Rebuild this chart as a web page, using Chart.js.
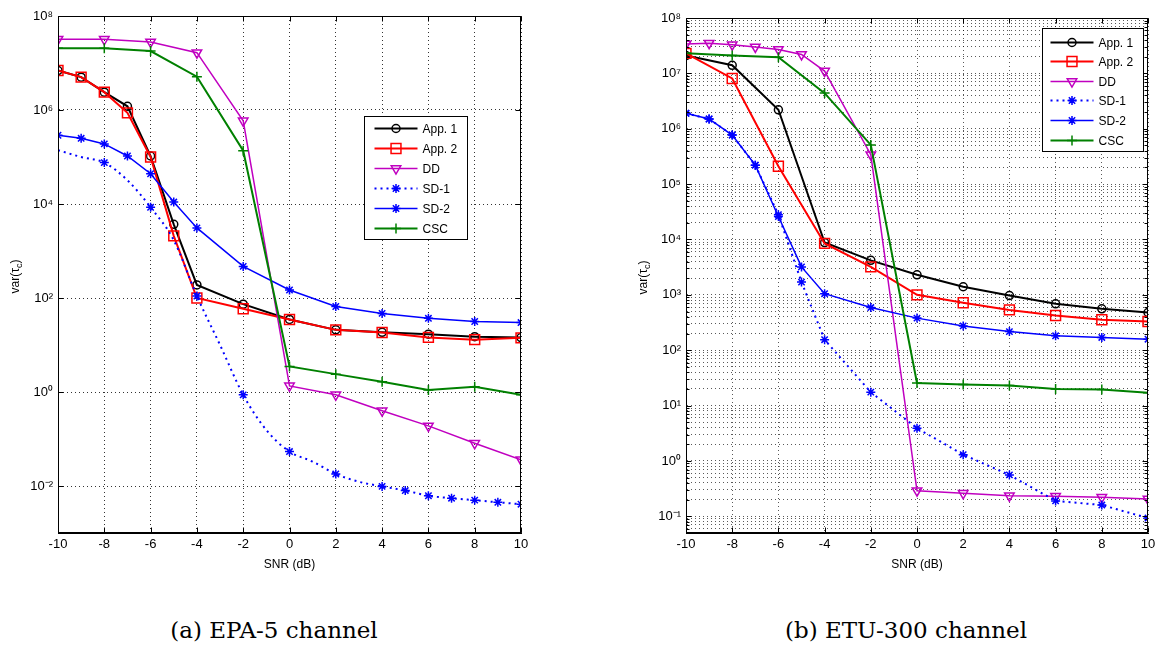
<!DOCTYPE html>
<html>
<head>
<meta charset="utf-8">
<script src="https://cdn.jsdelivr.net/npm/chart.js@4/dist/chart.umd.min.js"></script>
<style>
html, body { margin: 0; padding: 0; background: #fff; }
body { width: 1169px; height: 648px; position: relative; overflow: hidden; }
.panel { position: absolute; top: 0; }
.cap { position: absolute; top: 617px; font-family: "DejaVu Serif", serif; font-size: 23px; line-height: 26px;
       transform: translateX(-50%); white-space: nowrap; color: #000; }
</style>
</head>
<body>
<div class="panel" style="left:0px"><canvas id="chartA" width="560" height="580"></canvas></div>
<div class="panel" style="left:628px"><canvas id="chartB" width="540" height="580"></canvas></div>
<div class="cap" style="left:274px">(a) EPA-5 channel</div>
<div class="cap" style="left:906px">(b) ETU-300 channel</div>
<script>
// SNR grids used by the different curves
const snrFine = [-10, -9, -8, -7, -6, -5, -4, -2, 0, 2, 4, 6, 8, 10];
const snrEven = [-10, -8, -6, -4, -2, 0, 2, 4, 6, 8, 10];
const snrAll = [-10, -9, -8, -7, -6, -5, -4, -3, -2, -1, 0, 1, 2, 3, 4, 5, 6, 7, 8, 9, 10];
const xTicks = [-10, -8, -6, -4, -2, 0, 2, 4, 6, 8, 10];

// (a) EPA-5 channel
const app1A = [6.9e6, 5.0e6, 2.4e6, 1.2e6, 1.05e5, 3.7e3, 190, 74, 35, 21, 18.6, 17, 15, 14.4];
const app2A = [6.9e6, 5.0e6, 2.4e6, 8.7e5, 1.0e5, 2.1e3, 100, 59, 35, 21, 18.4, 14.5, 13, 14.2];
const ddA = [3.2e7, 3.2e7, 2.8e7, 1.66e7, 5.9e5, 1.35, 0.87, 0.40, 0.19, 0.081, 0.036];
const sd1A = [1.4e5, 1.0e5, 7.6e4, 3.2e4, 8.5e3, 1.7e3, 110, 10, 0.87, 0.155, 0.054, 0.033, 0.018, 0.0123,
              0.0098, 0.008, 0.0062, 0.0055, 0.005, 0.0045, 0.0041];
const sd1AMarked = [0, 0, 1, 0, 1, 0, 1, 0, 1, 0, 1, 0, 1, 0, 1, 1, 1, 1, 1, 1, 1];
const sd2A = [2.9e5, 2.5e5, 1.9e5, 1.05e5, 4.4e4, 1.1e4, 3.1e3, 470, 148, 66, 47, 37, 31.6, 30];
const cscA = [2.05e7, 2.05e7, 1.8e7, 5.1e6, 1.36e5, 3.5, 2.4, 1.66, 1.1, 1.3, 0.87];
const yTicksA = [1e-2, 1e0, 1e2, 1e4, 1e6, 1e8];

// (b) ETU-300 channel
const app1B = [2.1e7, 1.4e7, 2.2e6, 8.8e3, 4.2e3, 2.3e3, 1.4e3, 970, 690, 560, 480];
const app2B = [2.3e7, 8.1e6, 2.1e5, 8.5e3, 3.2e3, 1.0e3, 720, 535, 425, 355, 330];
const ddB = [3.4e7, 3.5e7, 3.3e7, 3.0e7, 2.7e7, 2.2e7, 1.1e7, 3.4e5, 0.29, 0.26, 0.235, 0.23, 0.22, 0.205];
const sd1B = [1.9e6, 1.5e6, 7.7e5, 2.2e5, 2.8e4, 1.7e3, 155, 17.5, 3.9, 1.3, 0.56, 0.19, 0.16, 0.093];
const sd2B = [1.9e6, 1.5e6, 7.7e5, 2.2e5, 2.6e4, 3.2e3, 1.05e3, 590, 380, 275, 217, 182, 170, 158];
const cscB = [2.3e7, 2.1e7, 1.95e7, 4.4e6, 5.1e5, 25.6, 24, 23, 20, 19.5, 17];
const yTicksB = [1e-1, 1e0, 1e1, 1e2, 1e3, 1e4, 1e5, 1e6, 1e7, 1e8];
const minorSteps = [2, 3, 4, 5, 6, 7, 8, 9];

const FONT = '"Liberation Sans", Arial, sans-serif';
const SUP = {'-': '\u207B', '0': '\u2070', '1': '\u00B9', '2': '\u00B2', '3': '\u00B3', '4': '\u2074',
             '5': '\u2075', '6': '\u2076', '7': '\u2077', '8': '\u2078', '9': '\u2079'};
function powLabel(v) {
  const e = Math.round(Math.log10(v));
  return '10' + String(e).split('').map(c => SUP[c]).join('');
}

const styles = {
  app1: { color: '#000000', pointStyle: 'circle', radius: 4, width: 2 },
  app2: { color: '#ff0000', pointStyle: 'rect', radius: 7, width: 2 },
  dd:   { color: '#c000c0', pointStyle: 'triangle', radius: 5.5, width: 1.5, rotation: 180 },
  sd1:  { color: '#0000ff', pointStyle: 'star', radius: 4.5, width: 2, dash: [2, 4] },
  sd2:  { color: '#0000ff', pointStyle: 'star', radius: 4.5, width: 1.5 },
  csc:  { color: '#008000', pointStyle: 'cross', radius: 5, width: 2 }
};

function series(label, key, xs, ys, order, extra) {
  const s = styles[key];
  return Object.assign({
    label: label,
    data: xs.map((x, i) => ({ x: x, y: ys[i] })),
    borderColor: s.color,
    backgroundColor: s.color,
    borderWidth: s.width,
    borderDash: s.dash || [],
    pointStyle: s.pointStyle,
    pointRadius: s.radius,
    pointRotation: s.rotation || 0,
    pointBorderColor: s.color,
    pointBackgroundColor: 'rgba(0,0,0,0)',
    pointBorderWidth: 1.5,
    tension: 0,
    order: order,
    _legendRadius: s.radius
  }, extra || {});
}

// frame, inner tick marks, y label and MATLAB-like legend
const matlabFrame = {
  id: 'matlabFrame',
  afterDraw(chart, args, opts) {
    const ctx = chart.ctx;
    const a = chart.chartArea;
    const L = Math.round(a.left) + 0.5, R = Math.round(a.right) - 0.5;
    const T = Math.round(a.top) + 0.5, B = Math.round(a.bottom) - 0.5;
    ctx.save();
    ctx.strokeStyle = '#000';
    ctx.lineWidth = 1;
    ctx.setLineDash([]);
    ctx.strokeRect(L, T, R - L, B - T);

    ctx.beginPath();
    const xs = chart.scales.x, ys = chart.scales.y;
    xs.ticks.forEach(t => {
      const px = Math.round(xs.getPixelForValue(t.value)) + 0.5;
      ctx.moveTo(px, B); ctx.lineTo(px, B - 5);
      ctx.moveTo(px, T); ctx.lineTo(px, T + 5);
    });
    ys.ticks.forEach(t => {
      const py = Math.round(ys.getPixelForValue(t.value)) + 0.5;
      const len = t.label === '' ? 3 : 5;
      ctx.moveTo(L, py); ctx.lineTo(L + len, py);
      ctx.moveTo(R, py); ctx.lineTo(R - len, py);
    });
    ctx.stroke();

    // y axis label var(τ_c)
    ctx.save();
    ctx.translate(a.left - 42, (a.top + a.bottom) / 2 + 2);
    ctx.rotate(-Math.PI / 2);
    ctx.fillStyle = '#000';
    ctx.textBaseline = 'middle';
    ctx.font = '12px ' + FONT;
    const p1 = 'var(\u03C4', p3 = ')';
    const w1 = ctx.measureText(p1).width;
    ctx.font = '9px ' + FONT;
    const w2 = ctx.measureText('c').width;
    ctx.font = '12px ' + FONT;
    const w3 = ctx.measureText(p3).width;
    let x0 = -(w1 + w2 + w3) / 2;
    ctx.fillText(p1, x0, 0);
    ctx.font = '9px ' + FONT;
    ctx.fillText('c', x0 + w1, 4);
    ctx.font = '12px ' + FONT;
    ctx.fillText(p3, x0 + w1 + w2, 0);
    ctx.restore();

    // legend
    const lg = opts.legend;
    const bx = Math.round(a.left + lg.left) + 0.5, by = Math.round(a.top + lg.top) + 0.5;
    ctx.fillStyle = '#fff';
    ctx.fillRect(bx, by, lg.width, lg.height);
    ctx.strokeStyle = '#000';
    ctx.strokeRect(bx, by, lg.width, lg.height);
    ctx.font = '12px ' + FONT;
    ctx.textBaseline = 'middle';
    chart.data.datasets.forEach((ds, i) => {
      const y = Math.round(by + lg.row0 + i * lg.step) + 0.5;
      ctx.save();
      ctx.strokeStyle = ds.borderColor;
      ctx.lineWidth = ds.borderWidth;
      ctx.setLineDash(ds.borderDash || []);
      ctx.beginPath();
      ctx.moveTo(bx + lg.line0, y);
      ctx.lineTo(bx + lg.line1, y);
      ctx.stroke();
      ctx.setLineDash([]);
      ctx.lineWidth = ds.pointBorderWidth;
      ctx.fillStyle = 'rgba(0,0,0,0)';
      Chart.helpers.drawPoint(ctx, {
        pointStyle: ds.pointStyle, rotation: ds.pointRotation,
        radius: ds._legendRadius, borderWidth: ds.pointBorderWidth
      }, bx + (lg.line0 + lg.line1) / 2, y);
      ctx.restore();
      ctx.fillStyle = '#000';
      ctx.fillText(ds.label, bx + lg.text, y + 1);
    });
    ctx.restore();
  }
};

function makeChart(id, datasets, yMin, yTickValues, yMajor, pad, legend, gridColor) {
  return new Chart(document.getElementById(id), {
    type: 'line',
    data: { datasets: datasets },
    options: {
      responsive: false,
      animation: false,
      events: [],
      layout: { padding: pad },
      scales: {
        x: {
          type: 'linear', min: -10, max: 10,
          afterBuildTicks: s => { s.ticks = xTicks.map(v => ({ value: v })); },
          afterFit: s => { s.height = 47; },
          ticks: { color: '#000', font: { family: FONT, size: 13 }, padding: 4, autoSkip: false, maxRotation: 0 },
          grid: { color: gridColor, lineWidth: 1, drawTicks: false },
          border: { display: true, color: '#000', dash: [1, 3] },
          title: { display: true, text: 'SNR (dB)', color: '#000', font: { family: FONT, size: 12 }, padding: { top: 2, bottom: 8 } }
        },
        y: {
          type: 'logarithmic', min: yMin, max: 1e8,
          afterBuildTicks: s => { s.ticks = yTickValues.map(v => ({ value: v })); },
          afterFit: s => { s.width = 58; },
          ticks: {
            color: '#000', font: { family: FONT, size: 13 }, padding: 5, autoSkip: false,
            callback: v => yMajor.some(m => Math.abs(m - v) / m < 1e-6) ? powLabel(v) : ''
          },
          grid: { color: gridColor, lineWidth: 1, drawTicks: false },
          border: { display: true, color: '#000', dash: [1, 3] }
        }
      },
      plugins: {
        legend: { display: false },
        tooltip: { enabled: false },
        matlabFrame: { legend: legend }
      }
    },
    plugins: [matlabFrame]
  });
}

const datasetsA = [
  series('App. 1', 'app1', snrFine, app1A, 5),
  series('App. 2', 'app2', snrFine, app2A, 4),
  series('DD', 'dd', snrEven, ddA, 3),
  series('SD-1', 'sd1', snrAll, sd1A, 2, {
    pointRadius: sd1AMarked.map(m => m ? 4.5 : 0), cubicInterpolationMode: 'monotone'
  }),
  series('SD-2', 'sd2', snrFine, sd2A, 1),
  series('CSC', 'csc', snrEven, cscA, 0)
];

const datasetsB = [
  series('App. 1', 'app1', snrEven, app1B, 5),
  series('App. 2', 'app2', snrEven, app2B, 4),
  series('DD', 'dd', snrFine, ddB, 3),
  series('SD-1', 'sd1', snrFine, sd1B, 2),
  series('SD-2', 'sd2', snrFine, sd2B, 1),
  series('CSC', 'csc', snrEven, cscB, 0)
];

const yMinB = 0.05;
const yAllB = [];
[1e-2].concat(yTicksB).forEach(m => {
  if (m >= yMinB) yAllB.push(m);
  if (m < 1e8) minorSteps.forEach(k => { const v = m * k; if (v >= yMinB && v < 1e8) yAllB.push(v); });
});
yAllB.sort((p, q) => p - q);

makeChart('chartA', datasetsA, 1e-3, yTicksA, yTicksA,
  { top: 16, right: 39, left: 0, bottom: 0 },
  { left: 306, top: 100, width: 103, height: 123, line0: 10, line1: 53, text: 58, row0: 11, step: 20 },
  'rgba(0,0,0,0.8)');

makeChart('chartB', datasetsB, yMinB, yAllB, yTicksB,
  { top: 18, right: 20, left: 0, bottom: 0 },
  { left: 356, top: 10, width: 101, height: 123, line0: 8, line1: 51, text: 56, row0: 13, step: 19.6 },
  'rgba(0,0,0,0.65)');
</script>
</body>
</html>
